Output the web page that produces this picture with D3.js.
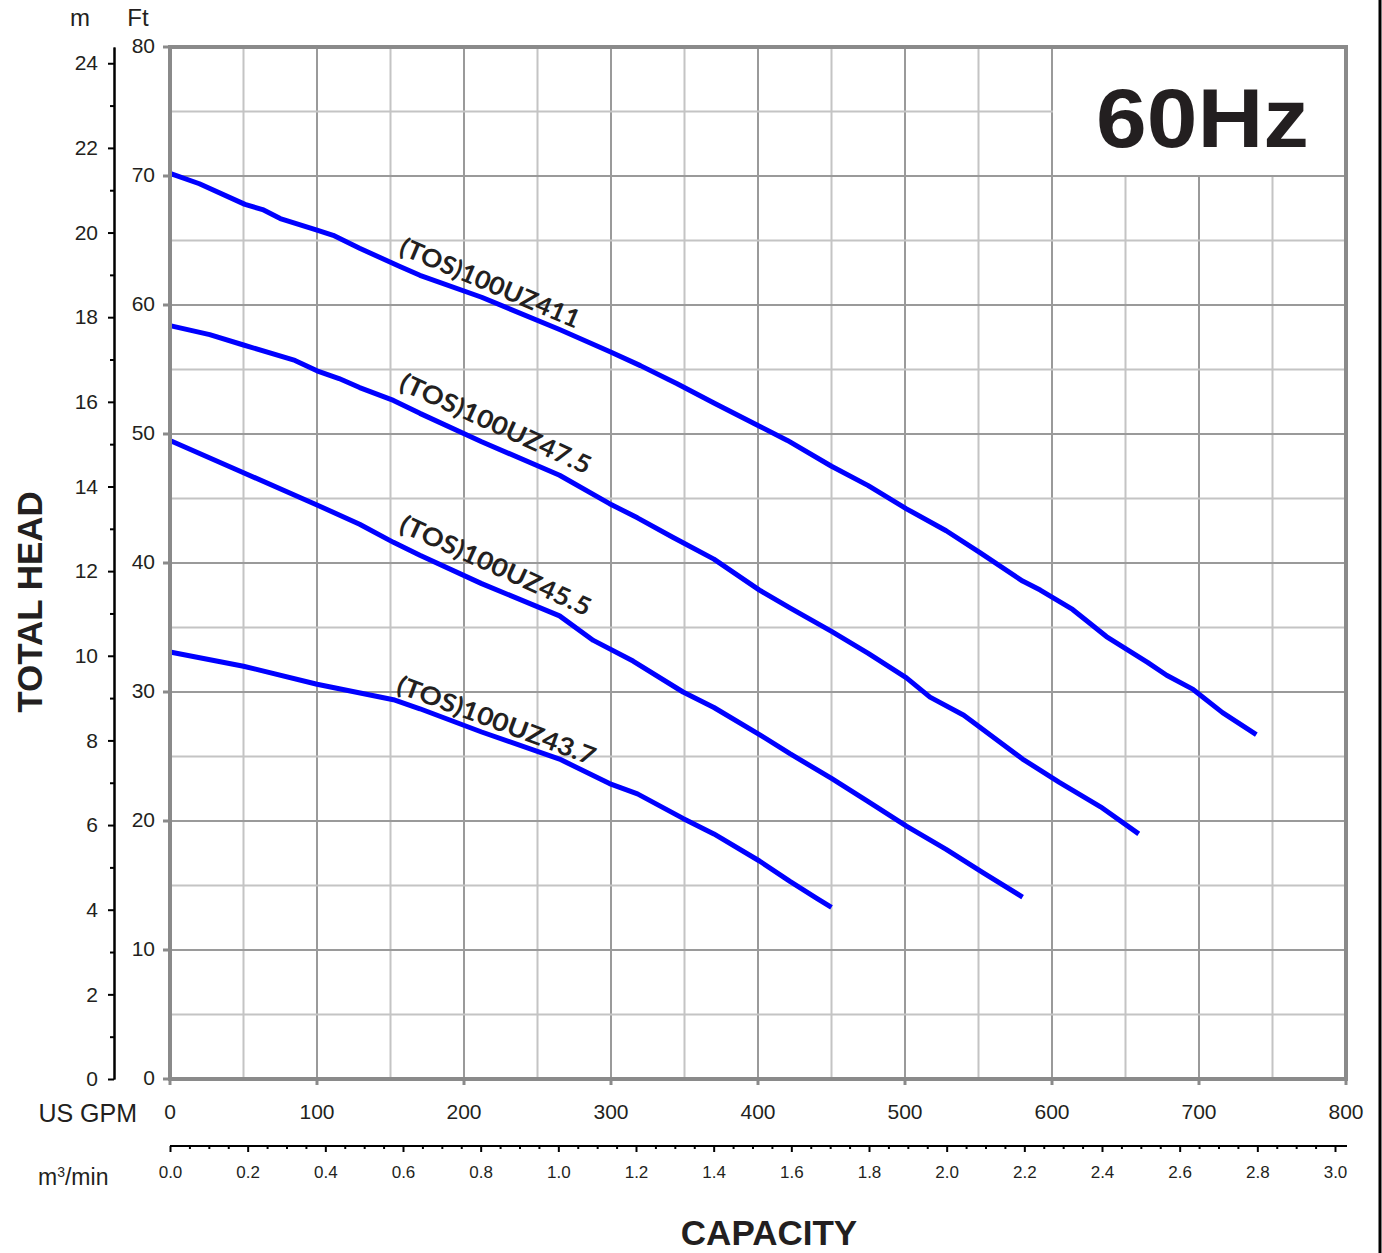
<!DOCTYPE html>
<html>
<head>
<meta charset="utf-8">
<script src="https://cdn.jsdelivr.net/npm/d3@7"></script>
<style>
  body { margin: 0; background: #fff; }
  svg { display: block; }
  text { font-family: "Liberation Sans", Arial, sans-serif; fill: #231f20; }
</style>
</head>
<body>
<svg id="chart" width="1382" height="1253"></svg>
<script>
// Pump curves, capacity in US GPM, head in ft
const models = ['(TOS)100UZ411', '(TOS)100UZ47.5', '(TOS)100UZ45.5', '(TOS)100UZ43.7'];

const flow411 = [0, 20, 51, 63, 75, 100, 111, 129, 156, 170, 212, 265, 299, 320, 345, 370, 401, 420, 450, 475, 501, 528, 551, 580, 592, 614, 637, 665, 678, 696, 716, 739];
const head411 = [70.2, 69.4, 67.8, 67.4, 66.7, 65.8, 65.4, 64.4, 63.0, 62.3, 60.6, 58.1, 56.4, 55.3, 53.9, 52.4, 50.6, 49.5, 47.5, 46.0, 44.2, 42.5, 40.8, 38.6, 37.9, 36.4, 34.3, 32.3, 31.3, 30.2, 28.4, 26.7];

const flow475 = [0, 27, 50, 85, 100, 115, 129, 152, 170, 212, 265, 299, 318, 342, 370, 401, 422, 450, 475, 501, 517, 540, 580, 605, 633, 659];
const head475 = [58.4, 57.7, 56.9, 55.7, 54.9, 54.3, 53.6, 52.6, 51.6, 49.4, 46.8, 44.6, 43.5, 42.0, 40.3, 37.9, 36.5, 34.7, 33.0, 31.1, 29.6, 28.2, 24.8, 23.0, 21.1, 19.0];

const flow455 = [0, 50, 100, 129, 152, 170, 212, 265, 288, 315, 349, 370, 401, 422, 450, 475, 501, 528, 553, 580];
const head455 = [49.5, 47.0, 44.5, 43.0, 41.6, 40.6, 38.4, 35.9, 34.0, 32.4, 30.0, 28.8, 26.7, 25.2, 23.3, 21.5, 19.6, 17.8, 16.0, 14.1];

const flow437 = [0, 50, 100, 152, 170, 212, 265, 299, 318, 349, 370, 401, 422, 440, 450];
const head437 = [33.1, 32.0, 30.6, 29.4, 28.7, 26.9, 24.8, 22.9, 22.1, 20.2, 19.0, 16.9, 15.3, 14.0, 13.3];

// label anchors (flow, head, angle)
const labelFlow = [155, 155, 155, 153];
const labelHead = [64.0, 53.5, 42.5, 30.0];
const labelAngle = [23, 24.5, 24.5, 20.5];

const gpmTicks = [0, 100, 200, 300, 400, 500, 600, 700, 800];
const ftTicks = [0, 10, 20, 30, 40, 50, 60, 70, 80];
const mTicks = [0, 2, 4, 6, 8, 10, 12, 14, 16, 18, 20, 22, 24];
const m3Ticks = [0, 0.2, 0.4, 0.6, 0.8, 1.0, 1.2, 1.4, 1.6, 1.8, 2.0, 2.2, 2.4, 2.6, 2.8, 3.0];

const FT_PER_M = 3.28084;
const GPM_PER_M3MIN = 264.172;

const svg = d3.select('#chart');

const pLeft = 170, pRight = 1346, pTop = 47, pBottom = 1079;
const x = d3.scaleLinear().domain([0, 800]).range([pLeft, pRight]);
const y = d3.scaleLinear().domain([0, 80]).range([pBottom, pTop]);
const yM = d3.scaleLinear().domain([0, 80 / FT_PER_M]).range([pBottom, pTop]);
const xM = d3.scaleLinear().domain([0, 800 / GPM_PER_M3MIN]).range([pLeft, pRight]);

svg.append('rect').attr('width', 1382).attr('height', 1253).attr('fill', '#fff');

// Grid
const grid = svg.append('g');
d3.range(50, 800, 50).forEach(function(g){
    grid.append('line')
        .attr('x1', x(g)).attr('x2', x(g))
        .attr('y1', pTop).attr('y2', pBottom)
        .attr('stroke', g % 100 === 0 ? '#9a9a9a' : '#c4c4c4')
        .attr('stroke-width', 2);
});
d3.range(5, 80, 5).forEach(function(f){
    grid.append('line')
        .attr('x1', pLeft).attr('x2', pRight)
        .attr('y1', y(f)).attr('y2', y(f))
        .attr('stroke', f % 10 === 0 ? '#9a9a9a' : '#c4c4c4')
        .attr('stroke-width', 2);
});

// 60Hz box
svg.append('rect')
    .attr('x', x(600) + 1).attr('y', pTop)
    .attr('width', pRight - x(600) - 1).attr('height', y(70) - pTop - 1)
    .attr('fill', '#fff');
svg.append('text')
    .attr('x', 1096).attr('y', 147)
    .attr('textLength', 213).attr('lengthAdjust', 'spacingAndGlyphs')
    .style('font-size', '84px').style('font-weight', 'bold')
    .text('60Hz');

// Curves
const line = d3.line().x(d => x(d[0])).y(d => y(d[1]));
const series = [
    d3.zip(flow411, head411),
    d3.zip(flow475, head475),
    d3.zip(flow455, head455),
    d3.zip(flow437, head437)
];
series.forEach(function(pts){
    svg.append('path')
        .attr('d', line(pts))
        .attr('fill', 'none')
        .attr('stroke', '#0000ff')
        .attr('stroke-width', 5)
        .attr('stroke-linejoin', 'round');
});

// Model labels
const labelLen = [193, 207, 207, 210];
models.forEach(function(m, i){
    svg.append('text')
        .attr('transform', `translate(${x(labelFlow[i])},${y(labelHead[i])}) rotate(${labelAngle[i]})`)
        .attr('textLength', labelLen[i]).attr('lengthAdjust', 'spacingAndGlyphs')
        .style('font-family', 'Lato, "Noto Sans", sans-serif')
        .style('font-size', '25px').style('font-weight', 'bold')
        .text(m);
});

// Plot border
svg.append('rect')
    .attr('x', pLeft).attr('y', pTop)
    .attr('width', pRight - pLeft).attr('height', pBottom - pTop)
    .attr('fill', 'none').attr('stroke', '#8a8a8a').attr('stroke-width', 4);

// Ft axis (grey ticks on plot edge)
ftTicks.forEach(function(f){
    svg.append('line')
        .attr('x1', pLeft - 7).attr('x2', pLeft)
        .attr('y1', y(f)).attr('y2', y(f))
        .attr('stroke', '#8a8a8a').attr('stroke-width', 3);
    svg.append('text')
        .attr('x', 155).attr('y', y(f))
        .attr('text-anchor', 'end').attr('dominant-baseline', 'middle')
        .style('font-size', '21px')
        .text(f);
});

// m axis
const mAxis = d3.axisLeft(yM).tickValues(mTicks).tickSize(6).tickSizeOuter(0).tickPadding(10);
const mG = svg.append('g').attr('transform', 'translate(114,0)').call(mAxis);
const mMinor = d3.axisLeft(yM).tickValues(d3.range(1, 25, 2)).tickSize(4).tickSizeOuter(0).tickFormat('');
svg.append('g').attr('transform', 'translate(114,0)').call(mMinor);
svg.selectAll('.domain').attr('stroke', '#000').attr('stroke-width', 2);
svg.selectAll('.tick line').attr('stroke', '#000').attr('stroke-width', 2);
mG.selectAll('text').style('font-size', '21px').attr('fill', '#231f20')
    .style('font-family', '"Liberation Sans", Arial, sans-serif');

// GPM axis
gpmTicks.forEach(function(g){
    svg.append('line')
        .attr('x1', x(g)).attr('x2', x(g))
        .attr('y1', pBottom).attr('y2', pBottom + 6)
        .attr('stroke', '#8a8a8a').attr('stroke-width', 3);
    svg.append('text')
        .attr('x', x(g)).attr('y', 1113)
        .attr('text-anchor', 'middle').attr('dominant-baseline', 'middle')
        .style('font-size', '21px')
        .text(g);
});

// m3/min axis
const m3Axis = d3.axisBottom(xM).tickValues(m3Ticks).tickSize(6).tickSizeOuter(0).tickPadding(14)
    .tickFormat(d3.format('.1f'));
const m3G = svg.append('g').attr('transform', 'translate(0,1146)').call(m3Axis);
const m3Minor = d3.axisBottom(xM).tickValues(d3.range(0.05, 3.0, 0.05).filter(v => Math.abs(v * 5 - Math.round(v * 5)) > 0.01))
    .tickSize(3).tickSizeOuter(0).tickFormat('');
const m3MinorG = svg.append('g').attr('transform', 'translate(0,1146)').call(m3Minor);
[m3G, m3MinorG].forEach(function(g){
    g.select('.domain').attr('stroke', '#000').attr('stroke-width', 2)
        .attr('d', `M${pLeft},0H${pRight + 1}`);
    g.selectAll('.tick line').attr('stroke', '#000').attr('stroke-width', 2);
});
m3G.selectAll('text').style('font-size', '17px').attr('fill', '#231f20')
    .style('font-family', '"Liberation Sans", Arial, sans-serif');

// Unit labels
svg.append('text').attr('x', 80).attr('y', 26).attr('text-anchor', 'middle')
    .style('font-size', '24px').text('m');
svg.append('text').attr('x', 138).attr('y', 26).attr('text-anchor', 'middle')
    .style('font-size', '24px').text('Ft');
svg.append('text').attr('x', 137).attr('y', 1122).attr('text-anchor', 'end')
    .style('font-size', '25px').text('US GPM');
const m3Label = svg.append('text').attr('x', 38).attr('y', 1185).style('font-size', '23px');
m3Label.append('tspan').text('m');
m3Label.append('tspan').attr('dy', -8).style('font-size', '14px').text('3');
m3Label.append('tspan').attr('dy', 8).text('/min');

// Axis titles
svg.append('text')
    .attr('transform', 'translate(42,602) rotate(-90)')
    .attr('text-anchor', 'middle')
    .style('font-size', '35px').style('font-weight', 'bold')
    .text('TOTAL HEAD');
svg.append('text')
    .attr('x', 769).attr('y', 1245)
    .attr('text-anchor', 'middle')
    .style('font-size', '35px').style('font-weight', 'bold')
    .text('CAPACITY');

// Page edge line
svg.append('line')
    .attr('x1', 1380).attr('x2', 1380).attr('y1', 0).attr('y2', 1253)
    .attr('stroke', '#000').attr('stroke-width', 3);
</script>
</body>
</html>
